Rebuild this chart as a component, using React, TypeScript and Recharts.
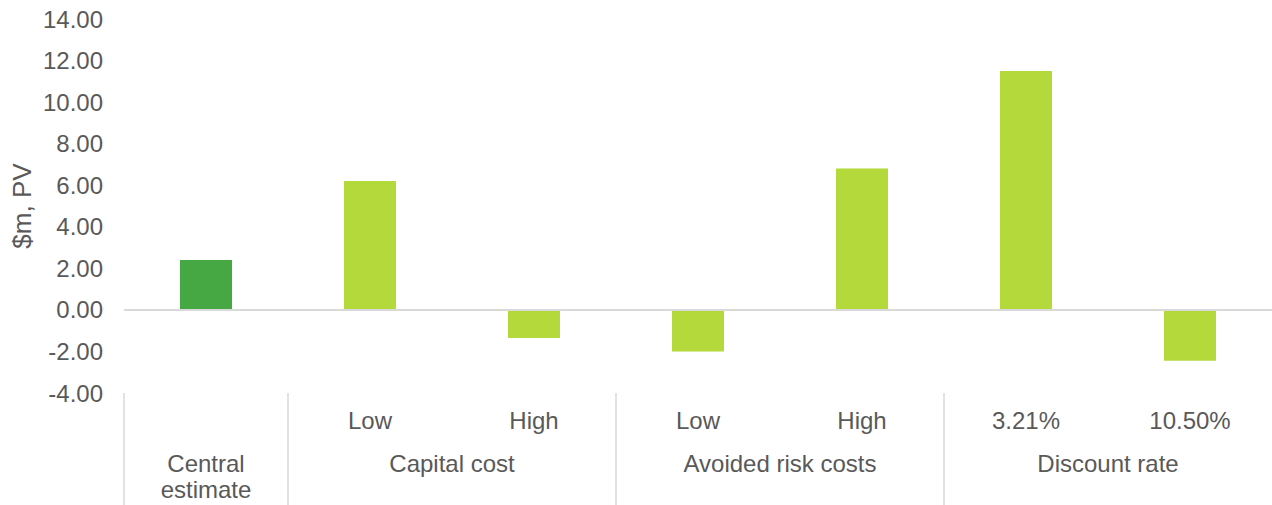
import React from "react";
import { BarChart, Bar, XAxis, YAxis, Cell, ReferenceLine } from "recharts";

const subLabels = ["", "Low", "High", "Low", "High", "3.21%", "10.50%"];
const groupLabels = [
  "Central estimate",
  "Capital cost",
  "Capital cost",
  "Avoided risk costs",
  "Avoided risk costs",
  "Discount rate",
  "Discount rate",
];
const values = [2.4, 6.2, -1.35, -2.0, 6.8, 11.5, -2.45];
const yTicks = [-4, -2, 0, 2, 4, 6, 8, 10, 12, 14];

const DARK = "#46a843";
const LIGHT = "#b4d93b";
const TEXT = "#595959";
const GRID = "#d9d9d9";
const FONT = 24;

const data = values.map((v, i) => ({
  key: `${groupLabels[i]}|${subLabels[i]}`,
  sub: subLabels[i],
  group: groupLabels[i],
  value: v,
}));

const groupSize = (g: string) => groupLabels.filter((x) => x === g).length;

const CategoryTick = (props: any) => {
  const { x, y, payload } = props;
  const i = payload.index;
  const half = payload.offset || 82;
  const group = groupLabels[i];
  const isFirst = i === 0 || groupLabels[i - 1] !== group;
  const n = groupSize(group);
  const lines = n === 1 ? group.split(" ") : [group];
  const gx = x - half + n * half;
  return (
    <g>
      {subLabels[i] && (
        <text x={x} y={y + 36} textAnchor="middle" fill={TEXT} fontSize={FONT}>
          {subLabels[i]}
        </text>
      )}
      {isFirst && (
        <>
          <line x1={x - half} x2={x - half} y1={y} y2={y + 112} stroke={GRID} strokeWidth={1.5} />
          <text x={gx} y={y + 79} textAnchor="middle" fill={TEXT} fontSize={FONT}>
            {lines.map((l, k) => (
              <tspan key={k} x={gx} dy={k === 0 ? 0 : 26}>
                {l}
              </tspan>
            ))}
          </text>
        </>
      )}
    </g>
  );
};

const YLabel = (props: any) => {
  const vb = props.viewBox || {};
  const cy = (vb.y || 0) + (vb.height || 0) / 2;
  return (
    <text
      x={31}
      y={cy}
      transform={`rotate(-90, 31, ${cy})`}
      textAnchor="middle"
      fill={TEXT}
      fontSize={26}
    >
      $m, PV
    </text>
  );
};

export default function App() {
  return (
    <div
      style={{
        position: "absolute",
        left: 0,
        top: 0,
        width: 1272,
        height: 505,
        background: "#fff",
        fontFamily: "'Liberation Sans', Arial, sans-serif",
      }}
    >
      <BarChart
        width={1272}
        height={505}
        data={data}
        margin={{ top: 19, right: 0, bottom: 0, left: 0 }}
      >
        <XAxis
          dataKey="key"
          height={112}
          axisLine={false}
          tickLine={false}
          tickSize={0}
          tickMargin={0}
          interval={0}
          tick={<CategoryTick />}
        />
        <YAxis
          width={124}
          domain={[-4, 14]}
          ticks={yTicks}
          axisLine={false}
          tickLine={false}
          tickSize={0}
          tickMargin={21}
          tickFormatter={(v: number) => v.toFixed(2)}
          tick={{ fill: TEXT, fontSize: FONT }}
          label={<YLabel />}
        />
        <ReferenceLine y={0} stroke={GRID} strokeWidth={2} />
        <Bar dataKey="value" barSize={52} isAnimationActive={false}>
          {data.map((d, i) => (
            <Cell key={d.key} fill={i === 0 ? DARK : LIGHT} />
          ))}
        </Bar>
      </BarChart>
    </div>
  );
}
